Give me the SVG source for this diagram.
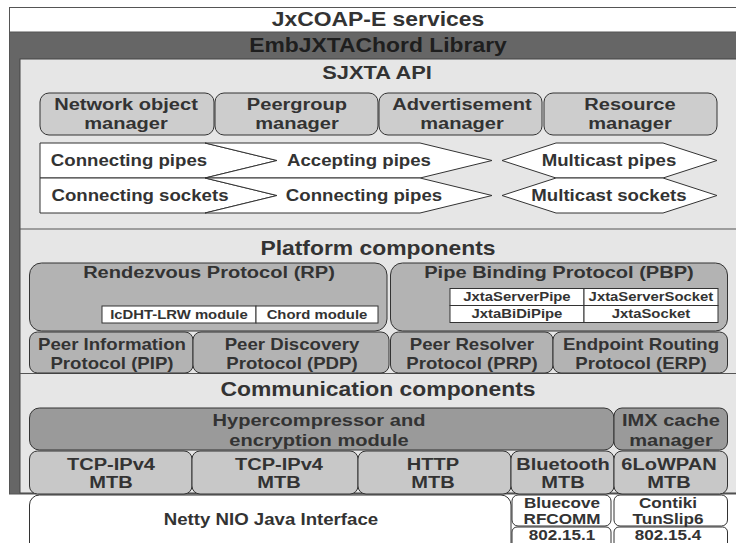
<svg xmlns="http://www.w3.org/2000/svg" width="736" height="543" viewBox="0 0 736 543">
<style>
.t{font-family:"Liberation Sans",Arial,sans-serif;font-weight:bold;fill:#333;text-anchor:middle;transform-box:fill-box;transform-origin:center;transform:scaleX(1.18)}
.ti{font-size:19.4px}
.lb{font-size:17px}
.ps{font-size:15.8px}
.pp{font-size:15.8px}
.sm{font-size:12.6px}
.mgr{fill:#cdcdcd;stroke:#333;stroke-width:1}
.plat{fill:#b3b3b3;stroke:#333;stroke-width:1}
.hyp{fill:#9a9a9a;stroke:#333;stroke-width:1}
.mtb{fill:#c8c8c8;stroke:#333;stroke-width:1}
.wh{fill:#fff;stroke:#333;stroke-width:1}
.sep{stroke:#555;stroke-width:1.2}
</style>
<rect width="736" height="543" fill="#fff"/>
<g id="frame">
<rect x="9.5" y="7.5" width="740" height="486.5" fill="#666" stroke="#555"/>
<rect x="9.5" y="7.5" width="740" height="24.5" fill="#fff" stroke="#555"/>
<text class="t ti" x="378" y="26.5">JxCOAP-E services</text>
<text class="t ti" x="378" y="52.5" style="fill:#1e1e1e">EmbJXTAChord Library</text>
<rect x="20" y="59" width="730" height="434" fill="#e6e6e6" stroke="#444"/>
<line class="sep" x1="20" y1="229" x2="750" y2="229"/>
<line class="sep" x1="20" y1="373.5" x2="750" y2="373.5"/>
<text class="t ti" x="377" y="79" style="font-size:18.5px">SJXTA API</text>
<text class="t ti" x="378" y="255.5">Platform components</text>
<text class="t ti" x="378" y="396.5">Communication components</text>
</g>
<g id="nom"><rect class="mgr" x="40" y="93" width="174" height="42" rx="9"/><text class="t lb" x="126" y="110">Network object</text><text class="t lb" x="126" y="129.5">manager</text></g>
<g id="pgm"><rect class="mgr" x="215" y="93" width="163" height="42" rx="9"/><text class="t lb" x="297" y="110">Peergroup</text><text class="t lb" x="297" y="129.5">manager</text></g>
<g id="adm"><rect class="mgr" x="379" y="93" width="163" height="42" rx="9"/><text class="t lb" x="462" y="110">Advertisement</text><text class="t lb" x="462" y="129.5">manager</text></g>
<g id="rsm"><rect class="mgr" x="544" y="93" width="173" height="42" rx="9"/><text class="t lb" x="630" y="110">Resource</text><text class="t lb" x="630" y="129.5">manager</text></g>
<g id="cpipes"><path class="wh" d="M40,143H205L277,160.5L205,178H40Z"/><text class="t pp" x="129" y="166">Connecting pipes</text></g>
<g id="apipes"><path class="wh" d="M205,143H420L492,160.5L420,178H205L277,160.5Z"/><text class="t pp" x="359" y="166">Accepting pipes</text></g>
<g id="mpipes"><path class="wh" d="M502,160.5L556,143H663L717,160.5L663,178H556Z"/><text class="t pp" x="609" y="166">Multicast pipes</text></g>
<g id="csockets"><path class="wh" d="M40,178H205L277,195.5L205,213H40Z"/><text class="t pp" x="140" y="201">Connecting sockets</text></g>
<g id="cpipes2"><path class="wh" d="M205,178H420L492,195.5L420,213H205L277,195.5Z"/><text class="t pp" x="364" y="201">Connecting pipes</text></g>
<g id="msockets"><path class="wh" d="M502,195.5L556,178H663L717,195.5L663,213H556Z"/><text class="t pp" x="609" y="201">Multicast sockets</text></g>
<g id="rp"><rect class="plat" x="29.5" y="263" width="357.5" height="68" rx="12"/><text class="t lb" x="209" y="278">Rendezvous Protocol (RP)</text>
<rect class="wh" x="102" y="306" width="154" height="17"/><rect class="wh" x="256" y="306" width="122" height="17"/>
<text class="t sm" x="179" y="319">IcDHT-LRW module</text><text class="t sm" x="317" y="319">Chord module</text></g>
<g id="pbp"><rect class="plat" x="390.5" y="263" width="337" height="68" rx="12"/><text class="t lb" x="559" y="278">Pipe Binding Protocol (PBP)</text>
<rect class="wh" x="450" y="288.5" width="134" height="17"/><rect class="wh" x="584" y="288.5" width="134" height="17"/>
<rect class="wh" x="450" y="305.5" width="134" height="17"/><rect class="wh" x="584" y="305.5" width="134" height="17"/>
<text class="t sm" x="517" y="301.5">JxtaServerPipe</text><text class="t sm" x="651" y="301.5">JxtaServerSocket</text>
<text class="t sm" x="517" y="318.5">JxtaBiDiPipe</text><text class="t sm" x="651" y="318.5">JxtaSocket</text></g>
<g id="pip"><rect class="plat" x="29.5" y="332" width="163.5" height="41" rx="8"/><text class="t ps" x="112" y="350">Peer Information</text><text class="t ps" x="112" y="369">Protocol (PIP)</text></g>
<g id="pdp"><rect class="plat" x="193" y="332" width="196" height="41" rx="8"/><text class="t ps" x="292" y="350">Peer Discovery</text><text class="t ps" x="292" y="369">Protocol (PDP)</text></g>
<g id="prp"><rect class="plat" x="390.5" y="332" width="162.5" height="41" rx="8"/><text class="t ps" x="472" y="350">Peer Resolver</text><text class="t ps" x="472" y="369">Protocol (PRP)</text></g>
<g id="erp"><rect class="plat" x="553" y="332" width="174.5" height="41" rx="8"/><text class="t ps" x="641" y="350">Endpoint Routing</text><text class="t ps" x="641" y="369">Protocol (ERP)</text></g>
<g id="hyper"><rect class="hyp" x="29.5" y="408" width="584.5" height="42" rx="10"/><text class="t lb" x="319" y="426">Hypercompressor and</text><text class="t lb" x="319" y="446">encryption module</text></g>
<g id="imx"><rect class="hyp" x="614" y="408" width="113.5" height="42" rx="8"/><text class="t lb" x="671" y="426">IMX cache</text><text class="t lb" x="671" y="446">manager</text></g>
<g id="tcp1"><rect class="mtb" x="29.5" y="451" width="162.5" height="43" rx="8"/><text class="t lb" x="111" y="470">TCP-IPv4</text><text class="t lb" x="111" y="488.5">MTB</text></g>
<g id="tcp2"><rect class="mtb" x="192" y="451" width="166" height="43" rx="8"/><text class="t lb" x="279" y="470">TCP-IPv4</text><text class="t lb" x="279" y="488.5">MTB</text></g>
<g id="http"><rect class="mtb" x="358" y="451" width="153" height="43" rx="8"/><text class="t lb" x="433" y="470">HTTP</text><text class="t lb" x="433" y="488.5">MTB</text></g>
<g id="bt"><rect class="mtb" x="511" y="451" width="103" height="43" rx="8"/><text class="t lb" x="563" y="470">Bluetooth</text><text class="t lb" x="563" y="488.5">MTB</text></g>
<g id="lowpan"><rect class="mtb" x="614" y="451" width="113.5" height="43" rx="8"/><text class="t lb" x="669" y="470">6LoWPAN</text><text class="t lb" x="669" y="488.5">MTB</text></g>
<g id="netty"><rect class="wh" x="29.5" y="495" width="481.5" height="60" rx="10"/><text class="t pp" x="271" y="525">Netty NIO Java Interface</text></g>
<g id="bluecove"><rect class="wh" x="512" y="495" width="99" height="31" rx="6"/><text class="t pp" style="font-size:14.5px" x="562" y="508">Bluecove</text><text class="t pp" style="font-size:14.5px" x="562" y="524">RFCOMM</text></g>
<g id="b8021"><rect class="wh" x="512" y="527" width="99" height="28" rx="5"/><text class="t pp" style="font-size:14.5px" x="562" y="540.5">802.15.1</text></g>
<g id="contiki"><rect class="wh" x="614" y="495" width="113.5" height="31" rx="6"/><text class="t pp" style="font-size:14.5px" x="668" y="508">Contiki</text><text class="t pp" style="font-size:14.5px" x="668" y="524">TunSlip6</text></g>
<g id="b8024"><rect class="wh" x="614" y="527" width="113.5" height="28" rx="5"/><text class="t pp" style="font-size:14.5px" x="668" y="540.5">802.15.4</text></g>
<g id="connectors"></g>
</svg>
